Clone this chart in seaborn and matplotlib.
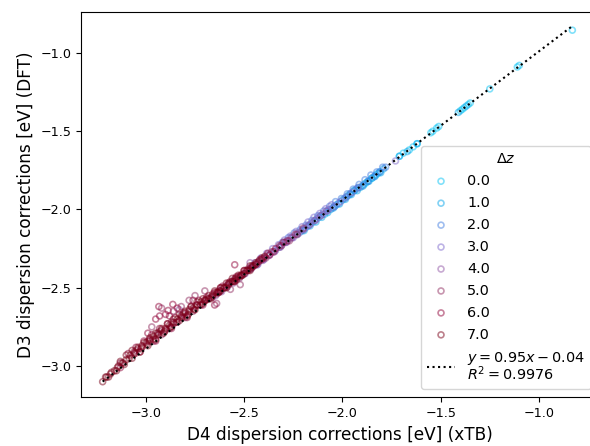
import numpy as np
import pandas as pd
import matplotlib
matplotlib.use("Agg")
import matplotlib.pyplot as plt
import seaborn as sns

# Delta z levels shown in the legend
dz_levels = [0.0, 1.0, 2.0, 3.0, 4.0, 5.0, 6.0, 7.0]

# xTB D4 (x) and DFT D3 (y) dispersion corrections, one pair of lists per Delta z
x_dz0 = [-2.04, -1.98, -1.96, -1.94, -1.92, -1.89, -1.87, -1.85, -1.83, -1.81,
         -1.71, -1.69, -1.66, -1.64, -1.62, -1.55, -1.54, -1.52, -1.51, -1.40,
         -1.39, -1.38, -1.36, -1.35, -1.25, -1.11, -1.10, -0.83]
y_dz0 = [-1.98, -1.92, -1.90, -1.88, -1.86, -1.84, -1.82, -1.80, -1.78, -1.76,
         -1.66, -1.64, -1.62, -1.60, -1.58, -1.51, -1.50, -1.48, -1.47, -1.37,
         -1.36, -1.35, -1.33, -1.32, -1.23, -1.09, -1.08, -0.855]

x_dz1 = [-2.21, -2.18, -2.15, -2.12, -2.09, -2.06, -2.03, -2.00, -1.97, -1.94,
         -1.91, -1.88, -1.85, -1.82, -1.79, -1.71, -1.67, -1.62, -1.41, -1.37,
         -2.195, -2.165, -2.135, -2.105, -2.075, -2.045, -2.015, -1.985, -1.955,
         -1.925, -1.895, -1.865, -1.835, -1.805]
y_dz1 = [-2.14, -2.11, -2.08, -2.05, -2.03, -2.00, -1.97, -1.94, -1.91, -1.88,
         -1.86, -1.83, -1.80, -1.77, -1.74, -1.66, -1.63, -1.58, -1.38, -1.34,
         -2.135, -2.105, -2.08, -2.05, -2.02, -1.99, -1.965, -1.935, -1.905,
         -1.88, -1.85, -1.82, -1.79, -1.765]

x_dz2 = [-2.32, -2.29, -2.26, -2.23, -2.20, -2.17, -2.14, -2.11, -2.08, -2.05,
         -2.02, -1.99, -1.96, -1.93, -1.90, -1.87, -1.84, -1.81, -1.78,
         -2.305, -2.275, -2.245, -2.215, -2.185, -2.155, -2.125, -2.095, -2.065,
         -2.035, -2.005, -1.975, -1.945, -1.915, -1.885, -1.855, -1.825, -1.795]
y_dz2 = [-2.24, -2.21, -2.18, -2.16, -2.13, -2.10, -2.07, -2.04, -2.01, -1.99,
         -1.96, -1.93, -1.90, -1.87, -1.85, -1.82, -1.79, -1.76, -1.73,
         -2.21, -2.18, -2.15, -2.13, -2.10, -2.07, -2.04, -2.01, -1.98,
         -1.95, -1.93, -1.90, -1.87, -1.84, -1.81, -1.78, -1.76, -1.73]

x_dz3 = [-2.46, -2.43, -2.40, -2.37, -2.34, -2.31, -2.28, -2.25, -2.22, -2.19,
         -2.16, -2.13, -2.10, -2.07, -2.04, -2.01, -1.98, -1.95, -1.92, -1.73,
         -2.445, -2.415, -2.385, -2.355, -2.325, -2.295, -2.265, -2.235, -2.205,
         -2.175, -2.145, -2.115, -2.085, -2.055]
y_dz3 = [-2.37, -2.35, -2.32, -2.29, -2.26, -2.23, -2.20, -2.18, -2.15, -2.12,
         -2.09, -2.06, -2.03, -2.00, -1.98, -1.95, -1.92, -1.89, -1.86, -1.69,
         -2.34, -2.31, -2.28, -2.25, -2.225, -2.195, -2.17, -2.14, -2.11,
         -2.08, -2.05, -2.025, -1.995, -1.97]

x_dz4 = [-2.66, -2.62, -2.58, -2.54, -2.50, -2.47, -2.44, -2.41, -2.38, -2.35,
         -2.32, -2.29, -2.26, -2.23, -2.20, -2.17, -2.14, -2.11, -2.08, -2.83,
         -2.47, -2.645, -2.615, -2.585, -2.555, -2.525, -2.495, -2.465, -2.435,
         -2.405, -2.375, -2.345, -2.315, -2.285, -2.255]
y_dz4 = [-2.56, -2.52, -2.48, -2.44, -2.41, -2.38, -2.35, -2.32, -2.29, -2.27,
         -2.24, -2.21, -2.18, -2.15, -2.13, -2.10, -2.07, -2.04, -2.01, -2.64,
         -2.34, -2.55, -2.525, -2.495, -2.47, -2.44, -2.41, -2.38, -2.355,
         -2.325, -2.295, -2.27, -2.24, -2.21, -2.18]

x_dz5 = [-3.05, -2.99, -2.93, -2.87, -2.81, -2.75, -2.69, -2.63, -2.59, -2.55,
         -2.51, -2.47, -2.43, -2.39, -2.35, -2.31, -2.27, -2.23, -2.92, -2.86,
         -2.78, -2.75, -2.70, -3.13, -2.64, -2.57, -2.52, -2.97, -2.82,
         -2.96, -2.92, -2.88, -2.84, -2.80, -2.76, -2.72, -2.68, -2.64, -2.60,
         -2.56, -2.52, -2.48, -2.44, -2.40, -2.36, -2.32, -2.28, -2.24, -2.20]
y_dz5 = [-2.90, -2.84, -2.78, -2.72, -2.67, -2.62, -2.57, -2.52, -2.49, -2.45,
         -2.42, -2.38, -2.34, -2.31, -2.27, -2.23, -2.20, -2.16, -2.63, -2.65,
         -2.58, -2.55, -2.52, -2.98, -2.60, -2.51, -2.48, -2.75, -2.62,
         -2.84, -2.80, -2.76, -2.72, -2.69, -2.65, -2.61, -2.57, -2.54, -2.50,
         -2.46, -2.42, -2.38, -2.35, -2.31, -2.27, -2.23, -2.20, -2.16, -2.12]

x_dz6 = [-3.09, -3.05, -3.01, -2.97, -2.93, -2.89, -2.85, -2.81, -2.77, -2.73,
         -2.69, -2.65, -2.61, -2.57, -2.53, -2.49, -2.45, -2.41, -2.37, -3.13,
         -3.03, -2.95, -2.87, -2.79, -2.71, -2.63, -2.55, -2.934, -2.887,
         -2.863, -2.90, -2.88, -2.95, -2.548, -2.65, -2.99, -2.84, -2.76,
         -2.93,
         -3.06, -3.02, -2.98, -2.94, -2.90, -2.86, -2.82, -2.78, -2.74, -2.70,
         -2.66, -2.62, -2.58, -2.54, -2.50, -2.46, -2.42, -2.38, -2.34, -2.30]
y_dz6 = [-2.92, -2.88, -2.84, -2.80, -2.76, -2.73, -2.69, -2.66, -2.62, -2.58,
         -2.56, -2.53, -2.49, -2.46, -2.43, -2.39, -2.36, -2.32, -2.29, -3.01,
         -2.91, -2.84, -2.76, -2.69, -2.61, -2.53, -2.46, -2.62, -2.645,
         -2.606, -2.67, -2.68, -2.70, -2.353, -2.61, -2.79, -2.63, -2.58,
         -2.68,
         -2.92, -2.88, -2.84, -2.80, -2.77, -2.73, -2.69, -2.65, -2.61, -2.58,
         -2.54, -2.50, -2.47, -2.43, -2.39, -2.36, -2.32, -2.28, -2.25, -2.21]

x_dz7 = [-3.22, -3.20, -3.18, -3.16, -3.14, -3.12, -3.10, -3.08, -3.06, -3.04,
         -3.02, -3.00, -2.98, -2.96, -2.94, -2.92, -2.90, -2.88, -2.86, -2.84,
         -2.82, -2.80, -2.78, -2.76, -2.74, -2.72, -2.70, -2.68, -2.66, -2.64,
         -2.62, -2.60, -2.58, -2.56, -2.54, -2.52, -2.50, -2.48, -2.46, -2.44,
         -3.19, -3.15, -3.11, -3.07, -3.03, -2.99, -2.95, -2.91, -2.87, -2.83,
         -2.79, -2.75, -2.71, -2.67, -2.63, -2.59, -2.55, -2.51, -2.47,
         -3.13, -3.10, -3.07, -3.04, -3.01, -2.98, -2.95, -2.92, -2.89, -2.86,
         -2.83, -2.80, -2.77, -2.74, -2.71, -2.68, -2.65, -2.62, -2.59, -2.56,
         -2.53, -2.50, -2.47, -2.44, -2.41,
         -3.205, -3.175, -3.145, -3.115, -3.085, -3.055, -3.025, -2.995, -2.965,
         -2.935, -2.905, -2.875, -2.845, -2.815, -2.785, -2.755, -2.725, -2.695,
         -2.665, -2.635, -2.605, -2.575, -2.545, -2.515, -2.485, -2.455, -2.425,
         -2.395]
y_dz7 = [-3.10, -3.07, -3.05, -3.03, -3.00, -2.98, -2.96, -2.93, -2.91, -2.89,
         -2.87, -2.85, -2.83, -2.81, -2.79, -2.77, -2.76, -2.74, -2.72, -2.70,
         -2.68, -2.66, -2.64, -2.63, -2.61, -2.59, -2.58, -2.57, -2.55, -2.53,
         -2.52, -2.50, -2.48, -2.46, -2.45, -2.43, -2.41, -2.39, -2.37, -2.35,
         -3.07, -3.03, -2.99, -2.95, -2.91, -2.87, -2.83, -2.79, -2.75, -2.71,
         -2.68, -2.64, -2.60, -2.57, -2.53, -2.50, -2.46, -2.42, -2.39,
         -2.97, -2.93, -2.90, -2.88, -2.85, -2.82, -2.79, -2.76, -2.73, -2.70,
         -2.67, -2.65, -2.62, -2.59, -2.57, -2.55, -2.52, -2.50, -2.47, -2.44,
         -2.42, -2.39, -2.36, -2.34, -2.31,
         -3.07, -3.04, -3.01, -2.98, -2.95, -2.92, -2.89, -2.86, -2.83,
         -2.80, -2.78, -2.75, -2.72, -2.69, -2.67, -2.64, -2.61, -2.58,
         -2.56, -2.53, -2.50, -2.47, -2.44, -2.42, -2.39, -2.36, -2.33,
         -2.30]

# linear fit shown in the legend
fit_slope = 0.95
fit_intercept = -0.04
fit_r2 = 0.9976

xs = [x_dz0, x_dz1, x_dz2, x_dz3, x_dz4, x_dz5, x_dz6, x_dz7]
ys = [y_dz0, y_dz1, y_dz2, y_dz3, y_dz4, y_dz5, y_dz6, y_dz7]

df = pd.concat([pd.DataFrame({"xtb": x, "dft": y, "dz": dz})
                for x, y, dz in zip(xs, ys, dz_levels)], ignore_index=True)

palette = ["#05c3f5", "#05a5eb", "#417de1", "#7d69cd",
           "#9155a5", "#912d60", "#91053a", "#7a0018"]

fig = plt.figure(figsize=(5.9, 4.46), dpi=100)
ax = fig.add_axes([0.138, 0.109, 0.8754, 0.863])

for dz, color in zip(dz_levels, palette):
    sub = df[df["dz"] == dz]
    sns.scatterplot(x=sub["xtb"], y=sub["dft"], ax=ax, marker="o", s=18,
                    facecolor="none", edgecolor=color, linewidth=1.2,
                    alpha=0.5, label=f"{dz:.1f}")

# regression line over the data range
line_x = np.array([df["xtb"].min(), df["xtb"].max()])
ax.plot(line_x, fit_slope * line_x + fit_intercept, color="black", linestyle=":",
        linewidth=1.5,
        label=f"$y = {fit_slope:.2f}x - {abs(fit_intercept):.2f}$\n$R^2 = {fit_r2:.4f}$")

ax.set_xlim(-3.328, -0.70)
ax.set_ylim(-3.20, -0.742)
ax.set_xlabel("D4 dispersion corrections [eV] (xTB)", fontsize=12.2)
ax.set_ylabel("D3 dispersion corrections [eV] (DFT)", fontsize=12.2)
ax.set_xticks([-3.0, -2.5, -2.0, -1.5, -1.0])
ax.set_yticks([-3.0, -2.5, -2.0, -1.5, -1.0])
ax.tick_params(labelsize=9.2)

leg = ax.legend(title=r"$\Delta z$", loc="lower right", bbox_to_anchor=(1.0, 0.004),
                fontsize=10.4, title_fontsize=10.4, labelspacing=0.55)
for t in leg.get_texts():
    t.set_linespacing(0.85)

fig.savefig("out.png", dpi=100)
